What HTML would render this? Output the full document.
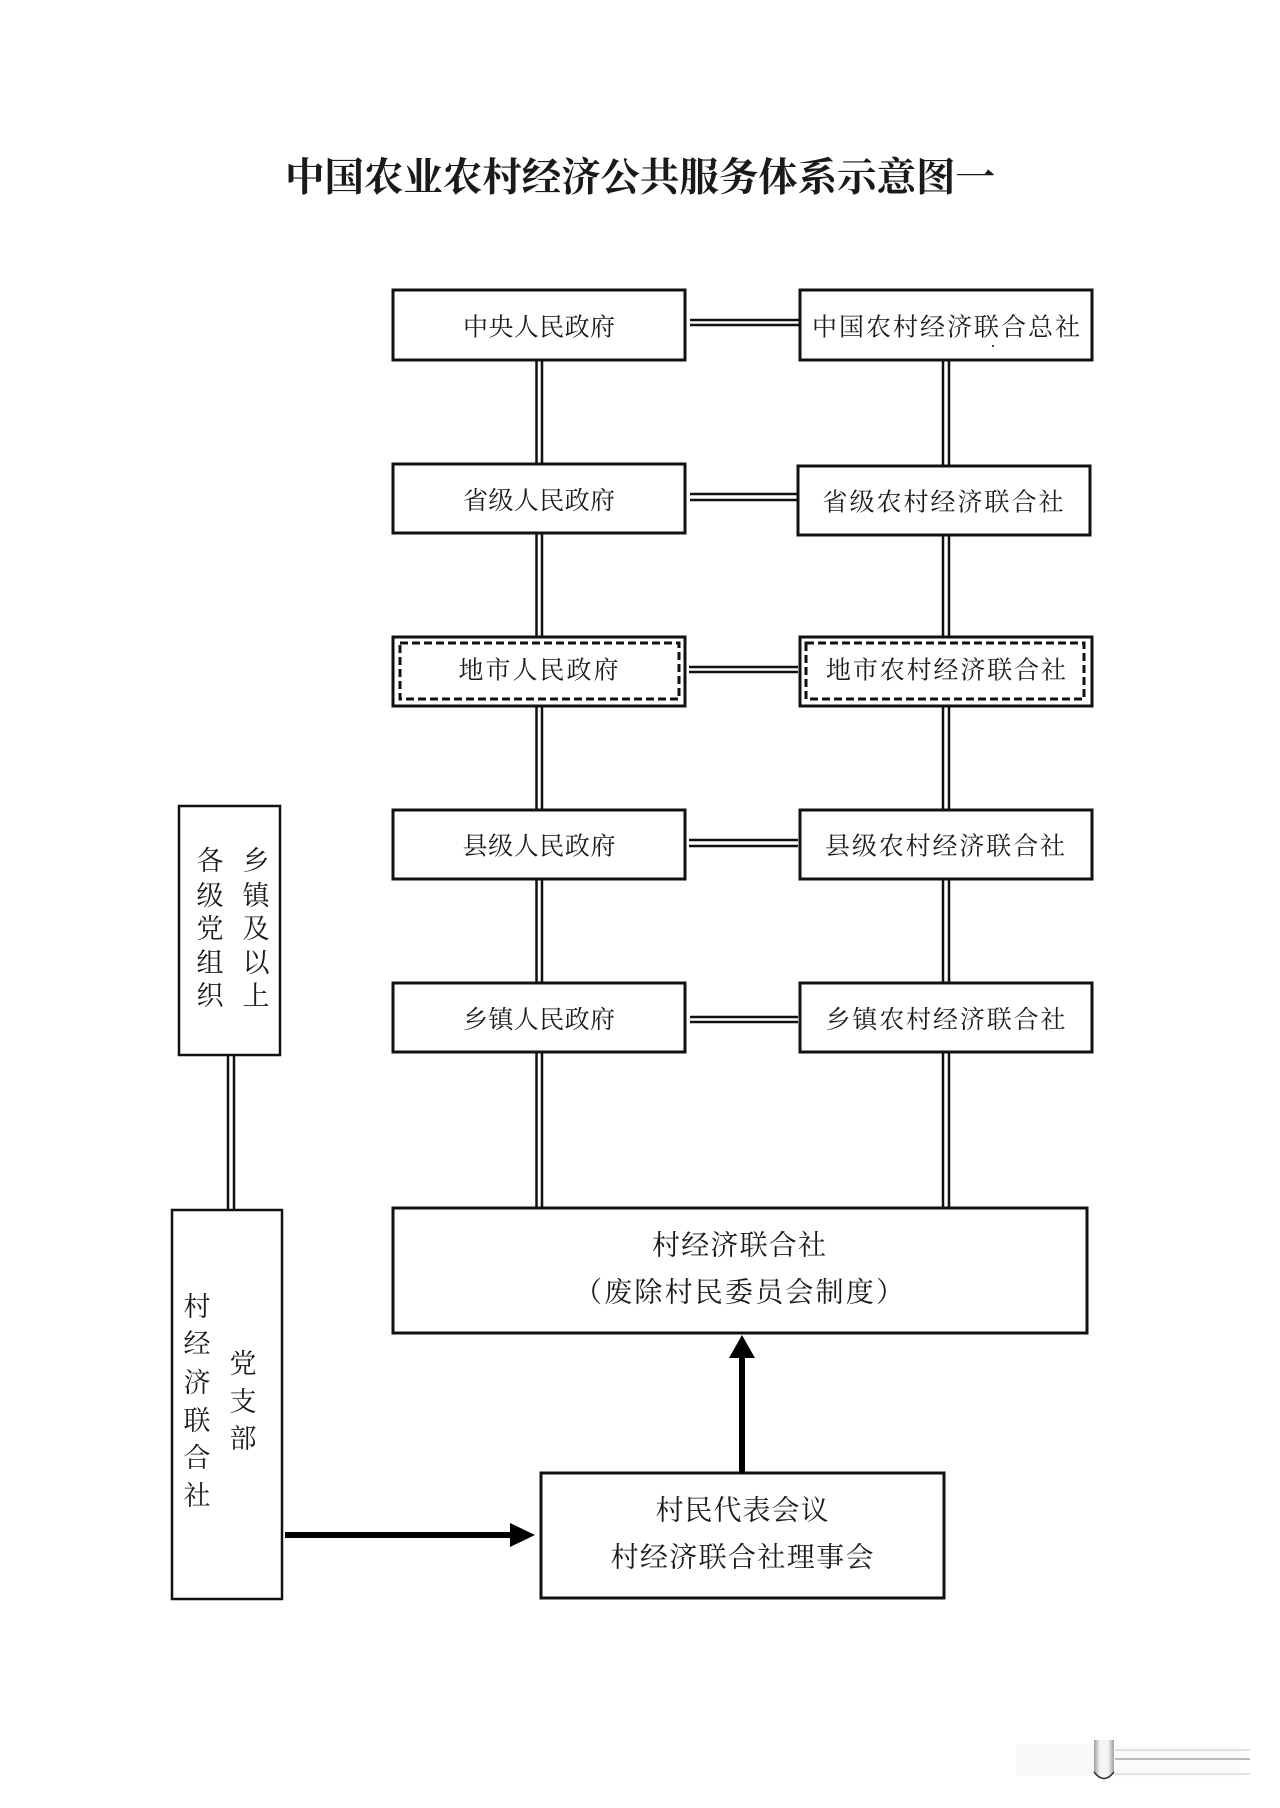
<!DOCTYPE html>
<html lang="zh"><head><meta charset="utf-8"><title>中国农业农村经济公共服务体系示意图一</title>
<style>
html,body{margin:0;padding:0;background:#fff;width:1280px;height:1808px;overflow:hidden}
svg{display:block}
text{font-family:"Liberation Serif","Noto Serif CJK SC",serif;fill:#1a1a1a;text-anchor:middle;dominant-baseline:central}
.t{font-size:25px}.m{font-size:28px}.v{font-size:27px}
.b{fill:#fff;stroke:#111;stroke-width:3}
.d{fill:none;stroke:#111;stroke-width:3;stroke-dasharray:8 4}
.l{stroke:#111;stroke-width:2.5;fill:none}
</style></head><body>
<svg width="1280" height="1808" viewBox="0 0 1280 1808" xmlns="http://www.w3.org/2000/svg">
<defs>
<linearGradient id="g" x1="0" x2="1" y1="0" y2="0"><stop offset="0" stop-color="#888"/><stop offset=".3" stop-color="#f2f2f2"/><stop offset=".7" stop-color="#f2f2f2"/><stop offset="1" stop-color="#888"/></linearGradient>
</defs>
<text x="640" y="178" font-size="39.5" font-weight="700" textLength="710" lengthAdjust="spacing">中国农业农村经济公共服务体系示意图一</text>

<!-- vertical connectors -->
<path class="l" d="M536.5 360V1207M542 360V1207M943 360V1207M949 360V1207M228 1054V1209M234 1054V1209"/>
<!-- horizontal connectors -->
<path class="l" d="M690 320H799M690 325H799M690 494H797M690 500H797M689 667H798M689 672H798M689 840H798M689 846H798M690 1017H798M690 1022H798"/>

<!-- left column -->
<rect class="b" x="393" y="290" width="292" height="70"/>
<rect class="b" x="393" y="464" width="292" height="69"/>
<rect class="b" x="393" y="637" width="292" height="69"/>
<rect class="b" x="393" y="810" width="292" height="69"/>
<rect class="b" x="393" y="983" width="292" height="69"/>
<!-- right column -->
<rect class="b" x="800" y="290" width="292" height="70"/>
<rect class="b" x="798" y="466" width="292" height="69"/>
<rect class="b" x="800" y="637" width="292" height="69"/>
<rect class="b" x="800" y="810" width="292" height="69"/>
<rect class="b" x="800" y="983" width="292" height="69"/>
<rect class="d" x="400" y="643" width="279" height="56"/>
<rect class="d" x="806" y="643" width="278" height="56"/>

<text class="t" x="539" y="328" textLength="152" lengthAdjust="spacing">中央人民政府</text>
<text class="t" x="539" y="501.5" textLength="152" lengthAdjust="spacing">省级人民政府</text>
<text class="t" x="538.5" y="671" textLength="160" lengthAdjust="spacing">地市人民政府</text>
<text class="t" x="539" y="847" textLength="153" lengthAdjust="spacing">县级人民政府</text>
<text class="t" x="539" y="1020.5" textLength="152" lengthAdjust="spacing">乡镇人民政府</text>
<text class="t" x="946" y="328" textLength="268" lengthAdjust="spacing">中国农村经济联合总社</text>
<text class="t" x="943" y="503" textLength="241" lengthAdjust="spacing">省级农村经济联合社</text>
<text class="t" x="946" y="671" textLength="240" lengthAdjust="spacing">地市农村经济联合社</text>
<text class="t" x="945" y="847" textLength="240" lengthAdjust="spacing">县级农村经济联合社</text>
<text class="t" x="945.5" y="1020.5" textLength="240" lengthAdjust="spacing">乡镇农村经济联合社</text>

<!-- village -->
<rect class="b" x="393" y="1208" width="694" height="125"/>
<text class="m" x="739" y="1246" textLength="174" lengthAdjust="spacing">村经济联合社</text>
<text class="m" x="739" y="1293" textLength="330" lengthAdjust="spacing">（废除村民委员会制度）</text>
<rect class="b" x="541" y="1473" width="403" height="125"/>
<text class="m" x="742" y="1511" textLength="173" lengthAdjust="spacing">村民代表会议</text>
<text class="m" x="742" y="1558" textLength="263" lengthAdjust="spacing">村经济联合社理事会</text>

<!-- left boxes -->
<rect class="b" x="179" y="806" width="101" height="249" style="stroke-width:2.5"/>
<rect class="b" x="172" y="1210" width="110" height="389" style="stroke-width:2.5"/>
<text class="v" x="210" y="861">各</text><text class="v" x="210" y="896">级</text><text class="v" x="210" y="929">党</text><text class="v" x="210" y="963">组</text><text class="v" x="210" y="996">织</text>
<text class="v" x="256" y="861">乡</text><text class="v" x="256" y="896">镇</text><text class="v" x="256" y="929">及</text><text class="v" x="256" y="963">以</text><text class="v" x="256" y="996">上</text>
<text class="v" x="197" y="1307">村</text><text class="v" x="197" y="1344">经</text><text class="v" x="197" y="1383">济</text><text class="v" x="197" y="1421">联</text><text class="v" x="197" y="1458">合</text><text class="v" x="197" y="1496">社</text>
<text class="v" x="243" y="1364">党</text><text class="v" x="243" y="1402">支</text><text class="v" x="243" y="1439">部</text>

<!-- arrows -->
<path d="M739 1473V1358H729L742 1335L755 1358H745V1473Z" fill="#000"/>
<path d="M285 1532H510V1523L535 1535L510 1547V1538H285Z" fill="#000"/>

<!-- specks -->
<circle cx="993" cy="346" r="1" fill="#111"/>

<!-- faint watermark -->
<rect x="1016" y="1744" width="80" height="32" fill="#f8f8f8"/>
<rect x="1115" y="1745" width="125" height="32" fill="#fbfbfb"/>
<path d="M1094 1740V1772Q1104 1784 1114 1772V1740" fill="url(#g)" opacity=".8"/>
<path d="M1094 1772Q1104 1785 1114 1772" fill="none" stroke="#333" stroke-width="1.5"/>
<path d="M1115 1759H1250" stroke="#bbb" stroke-width="2"/>
<path d="M1115 1750H1250M1115 1774H1250" stroke="#e2e2e2" stroke-width="2"/>
</svg>
</body></html>
